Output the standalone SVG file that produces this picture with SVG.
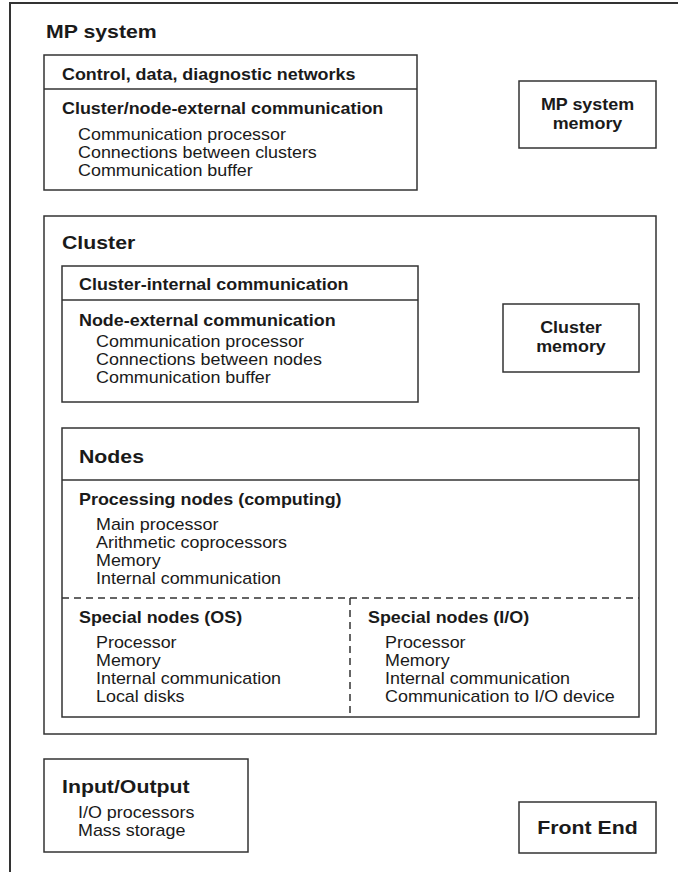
<svg xmlns="http://www.w3.org/2000/svg" width="678" height="872" viewBox="0 0 678 872">
<style>
  .box { fill: #fff; stroke: #333; stroke-width: 1.5; }
  .line { stroke: #333; stroke-width: 1.5; fill: none; }
  .dash { stroke: #333; stroke-width: 1.5; fill: none; stroke-dasharray: 7 5; }
  text { font-family: "Liberation Sans", Arial, Helvetica, sans-serif; fill: #1a1a1a; }
  .title { font-size: 19px; font-weight: bold; }
  .sub { font-size: 16px; font-weight: bold; }
  .item { font-size: 16px; }
  .mid { text-anchor: middle; }
</style>
<rect width="678" height="872" fill="#fff"/>
<g id="mp-system">
  <rect class="box" x="10" y="3" width="700" height="900" style="stroke-width:2"/>
  <text class="title" transform="matrix(1.12 0 0 1 46 38)">MP system</text>
</g>
<g id="mp-networks">
  <rect class="box" x="44" y="55" width="373" height="135"/>
  <line class="line" x1="44" y1="89" x2="417" y2="89"/>
  <text class="sub" transform="matrix(1.12 0 0 1 62 80)">Control, data, diagnostic networks</text>
  <text class="sub" transform="matrix(1.12 0 0 1 62 114)">Cluster/node-external communication</text>
  <text class="item" transform="matrix(1.12 0 0 1 78 140)">Communication processor</text>
  <text class="item" transform="matrix(1.12 0 0 1 78 158)">Connections between clusters</text>
  <text class="item" transform="matrix(1.12 0 0 1 78 176)">Communication buffer</text>
</g>
<g id="mp-memory">
  <rect class="box" x="519" y="81" width="137" height="67"/>
  <text class="sub mid" transform="matrix(1.12 0 0 1 587.5 110)">MP system</text>
  <text class="sub mid" transform="matrix(1.12 0 0 1 587.5 129)">memory</text>
</g>
<g id="cluster">
  <rect class="box" x="44" y="216" width="612" height="518"/>
  <text class="title" transform="matrix(1.12 0 0 1 62 249)">Cluster</text>
</g>
<g id="cluster-comm">
  <rect class="box" x="62" y="266" width="356" height="136"/>
  <line class="line" x1="62" y1="300" x2="418" y2="300"/>
  <text class="sub" transform="matrix(1.12 0 0 1 79 290)">Cluster-internal communication</text>
  <text class="sub" transform="matrix(1.12 0 0 1 79 326)">Node-external communication</text>
  <text class="item" transform="matrix(1.12 0 0 1 96 347)">Communication processor</text>
  <text class="item" transform="matrix(1.12 0 0 1 96 365)">Connections between nodes</text>
  <text class="item" transform="matrix(1.12 0 0 1 96 383)">Communication buffer</text>
</g>
<g id="cluster-memory">
  <rect class="box" x="503" y="304" width="136" height="68"/>
  <text class="sub mid" transform="matrix(1.12 0 0 1 571 333)">Cluster</text>
  <text class="sub mid" transform="matrix(1.12 0 0 1 571 352)">memory</text>
</g>
<g id="nodes">
  <rect class="box" x="62" y="428" width="577" height="289"/>
  <line class="line" x1="62" y1="480" x2="639" y2="480"/>
  <text class="title" transform="matrix(1.12 0 0 1 79 463)">Nodes</text>
  <text class="sub" transform="matrix(1.12 0 0 1 79 505)">Processing nodes (computing)</text>
  <text class="item" transform="matrix(1.12 0 0 1 96 530)">Main processor</text>
  <text class="item" transform="matrix(1.12 0 0 1 96 548)">Arithmetic coprocessors</text>
  <text class="item" transform="matrix(1.12 0 0 1 96 566)">Memory</text>
  <text class="item" transform="matrix(1.12 0 0 1 96 584)">Internal communication</text>
  <text class="sub" transform="matrix(1.12 0 0 1 79 623)">Special nodes (OS)</text>
  <text class="item" transform="matrix(1.12 0 0 1 96 648)">Processor</text>
  <text class="item" transform="matrix(1.12 0 0 1 96 666)">Memory</text>
  <text class="item" transform="matrix(1.12 0 0 1 96 684)">Internal communication</text>
  <text class="item" transform="matrix(1.12 0 0 1 96 702)">Local disks</text>
  <text class="sub" transform="matrix(1.12 0 0 1 368 623)">Special nodes (I/O)</text>
  <text class="item" transform="matrix(1.12 0 0 1 385 648)">Processor</text>
  <text class="item" transform="matrix(1.12 0 0 1 385 666)">Memory</text>
  <text class="item" transform="matrix(1.12 0 0 1 385 684)">Internal communication</text>
  <text class="item" transform="matrix(1.12 0 0 1 385 702)">Communication to I/O device</text>
</g>
<g id="connectors">
  <line class="dash" x1="62" y1="598" x2="639" y2="598"/>
  <line class="dash" x1="350" y1="598" x2="350" y2="717"/>
</g>
<g id="input-output">
  <rect class="box" x="44" y="759" width="204" height="93"/>
  <text class="title" transform="matrix(1.12 0 0 1 62 793)">Input/Output</text>
  <text class="item" transform="matrix(1.12 0 0 1 78 818)">I/O processors</text>
  <text class="item" transform="matrix(1.12 0 0 1 78 836)">Mass storage</text>
</g>
<g id="front-end">
  <rect class="box" x="519" y="802" width="137" height="51"/>
  <text class="title mid" transform="matrix(1.12 0 0 1 587.5 834)">Front End</text>
</g>
</svg>
